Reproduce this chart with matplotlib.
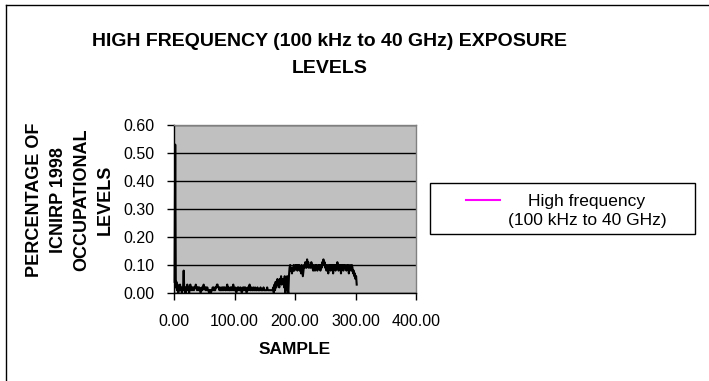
import matplotlib
matplotlib.use("Agg")
import matplotlib.pyplot as plt
from matplotlib.lines import Line2D
from matplotlib.patches import Rectangle
from matplotlib.ticker import FormatStrFormatter

plt.rcParams['font.family'] = ['Liberation Sans', 'DejaVu Sans']

title = "HIGH FREQUENCY (100 kHz to 40 GHz) EXPOSURE\nLEVELS"
y_title = "PERCENTAGE OF\nICNIRP 1998\nOCCUPATIONAL\nLEVELS"
x_title = "SAMPLE"
series_name = "High frequency\n(100 kHz to 40 GHz)"

x_ticks = [0, 100, 200, 300, 400]
y_ticks = [0.0, 0.1, 0.2, 0.3, 0.4, 0.5, 0.6]

# exposure level for each sample, in order (samples numbered from 1)
levels = [
    0.04, 0.53, 0.02, 0.04, 0.01, 0.03, 0.00, 0.02, 0.01, 0.03,
    0.01, 0.02, 0.00, 0.01, 0.02, 0.08, 0.01, 0.02, 0.00, 0.02,
    0.01, 0.03, 0.01, 0.02, 0.00, 0.02, 0.03, 0.01, 0.02, 0.01,
    0.02, 0.02, 0.01, 0.02, 0.02, 0.03, 0.02, 0.01, 0.02, 0.02,
    0.01, 0.02, 0.01, 0.00, 0.01, 0.02, 0.01, 0.02, 0.03, 0.02,
    0.02, 0.01, 0.02, 0.01, 0.02, 0.01, 0.01, 0.00, 0.01, 0.01,
    0.00, 0.01, 0.01, 0.02, 0.01, 0.02, 0.01, 0.01, 0.02, 0.02,
    0.03, 0.03, 0.02, 0.02, 0.01, 0.02, 0.01, 0.01, 0.02, 0.01,
    0.02, 0.01, 0.02, 0.02, 0.01, 0.01, 0.02, 0.03, 0.01, 0.02,
    0.01, 0.01, 0.02, 0.01, 0.02, 0.01, 0.02, 0.03, 0.01, 0.01,
    0.02, 0.01, 0.00, 0.01, 0.02, 0.01, 0.02, 0.01, 0.01, 0.02,
    0.01, 0.00, 0.01, 0.02, 0.01, 0.02, 0.01, 0.02, 0.01, 0.00,
    0.01, 0.02, 0.01, 0.02, 0.03, 0.01, 0.01, 0.02, 0.01, 0.01,
    0.02, 0.01, 0.01, 0.02, 0.01, 0.01, 0.01, 0.02, 0.01, 0.01,
    0.01, 0.01, 0.02, 0.01, 0.01, 0.01, 0.01, 0.02, 0.01, 0.01,
    0.01, 0.01, 0.01, 0.02, 0.01, 0.01, 0.01, 0.01, 0.01, 0.01,
    0.01, 0.01, 0.01, 0.02, 0.00, 0.03, 0.01, 0.04, 0.02, 0.03,
    0.05, 0.03, 0.04, 0.02, 0.05, 0.04, 0.06, 0.03, 0.05, 0.04,
    0.05, 0.02, 0.06, 0.00, 0.05, 0.04, 0.06, 0.01, 0.00, 0.06,
    0.09, 0.10, 0.08, 0.09, 0.07, 0.09, 0.08, 0.10, 0.08, 0.09,
    0.10, 0.09, 0.10, 0.08, 0.10, 0.09, 0.10, 0.08, 0.09, 0.07,
    0.10, 0.08, 0.06, 0.08, 0.10, 0.09, 0.11, 0.10, 0.09, 0.12,
    0.10, 0.11, 0.09, 0.10, 0.10, 0.09, 0.11, 0.10, 0.09, 0.08,
    0.10, 0.09, 0.08, 0.10, 0.09, 0.10, 0.08, 0.09, 0.10, 0.09,
    0.10, 0.08, 0.10, 0.09, 0.11, 0.10, 0.12, 0.10, 0.11, 0.09,
    0.10, 0.08, 0.10, 0.09, 0.07, 0.10, 0.09, 0.10, 0.08, 0.10,
    0.09, 0.10, 0.07, 0.10, 0.09, 0.10, 0.08, 0.10, 0.09, 0.11,
    0.10, 0.08, 0.10, 0.09, 0.10, 0.07, 0.10, 0.09, 0.10, 0.08,
    0.10, 0.09, 0.10, 0.09, 0.08, 0.10, 0.09, 0.10, 0.07, 0.09,
    0.10, 0.09, 0.08, 0.10, 0.09, 0.07, 0.08, 0.06, 0.07, 0.05,
    0.06, 0.03,
]
samples = list(range(1, len(levels) + 1))

W, H = 709, 381
fig = plt.figure(figsize=(W / 100, H / 100), dpi=100)
fig.patch.set_facecolor("white")

# plot area
ax = fig.add_axes([174 / W, 1 - 293 / H, (416 - 174) / W, (293 - 125) / H])
ax.set_facecolor("#C0C0C0")
ax.plot(samples, levels, color="black", lw=1.5, zorder=3, clip_on=False)

ax.set_xlim(x_ticks[0], x_ticks[-1])
ax.set_ylim(y_ticks[0], y_ticks[-1])
ax.set_xticks(x_ticks)
ax.set_yticks(y_ticks)
ax.xaxis.set_major_formatter(FormatStrFormatter("%.2f"))
ax.yaxis.set_major_formatter(FormatStrFormatter("%.2f"))
ax.grid(axis="y", color="black", lw=1.0, zorder=1)
ax.set_axisbelow(True)
ax.tick_params(axis="both", direction="out", length=5, width=1, color="black",
               labelsize=11.5)
ax.tick_params(axis="x", pad=10)
ax.tick_params(axis="y", pad=9)

for side in ("top", "right"):
    ax.spines[side].set_color("#808080")
    ax.spines[side].set_linewidth(1.0)
for side in ("left", "bottom"):
    ax.spines[side].set_color("black")
    ax.spines[side].set_linewidth(1.0)

# titles
fig.text(330 / W, 1 - 55 / H, title, ha="center", va="center",
         multialignment="center", fontsize=14, fontweight="bold", linespacing=1.7)
fig.text(295 / W, 1 - 349 / H, x_title, ha="center", va="center",
         fontsize=12.5, fontweight="bold")
fig.text(70 / W, 1 - 200 / H, y_title, ha="center", va="center", rotation=90,
         multialignment="center", fontsize=13, fontweight="bold", linespacing=1.5)

# legend box
fig.add_artist(Rectangle((430 / W, 1 - 234 / H), 265 / W, 51 / H,
                         transform=fig.transFigure, facecolor="white",
                         edgecolor="black", lw=1.0))
fig.add_artist(Line2D([466 / W, 500 / W], [1 - 200 / H, 1 - 200 / H],
                      transform=fig.transFigure, color="#FF00FF", lw=1.5))
fig.text(587 / W, 1 - 211 / H, series_name, ha="center", va="center",
         multialignment="center", fontsize=12.5, linespacing=1.35)

# outer chart border
fig.add_artist(Line2D([5.5 / W, 5.5 / W], [0, 1 - 4.5 / H],
                      transform=fig.transFigure, color="black", lw=1.0))
fig.add_artist(Line2D([5.5 / W, 1], [1 - 4.5 / H, 1 - 4.5 / H],
                      transform=fig.transFigure, color="black", lw=1.0))

fig.savefig("out.png", dpi=100)
